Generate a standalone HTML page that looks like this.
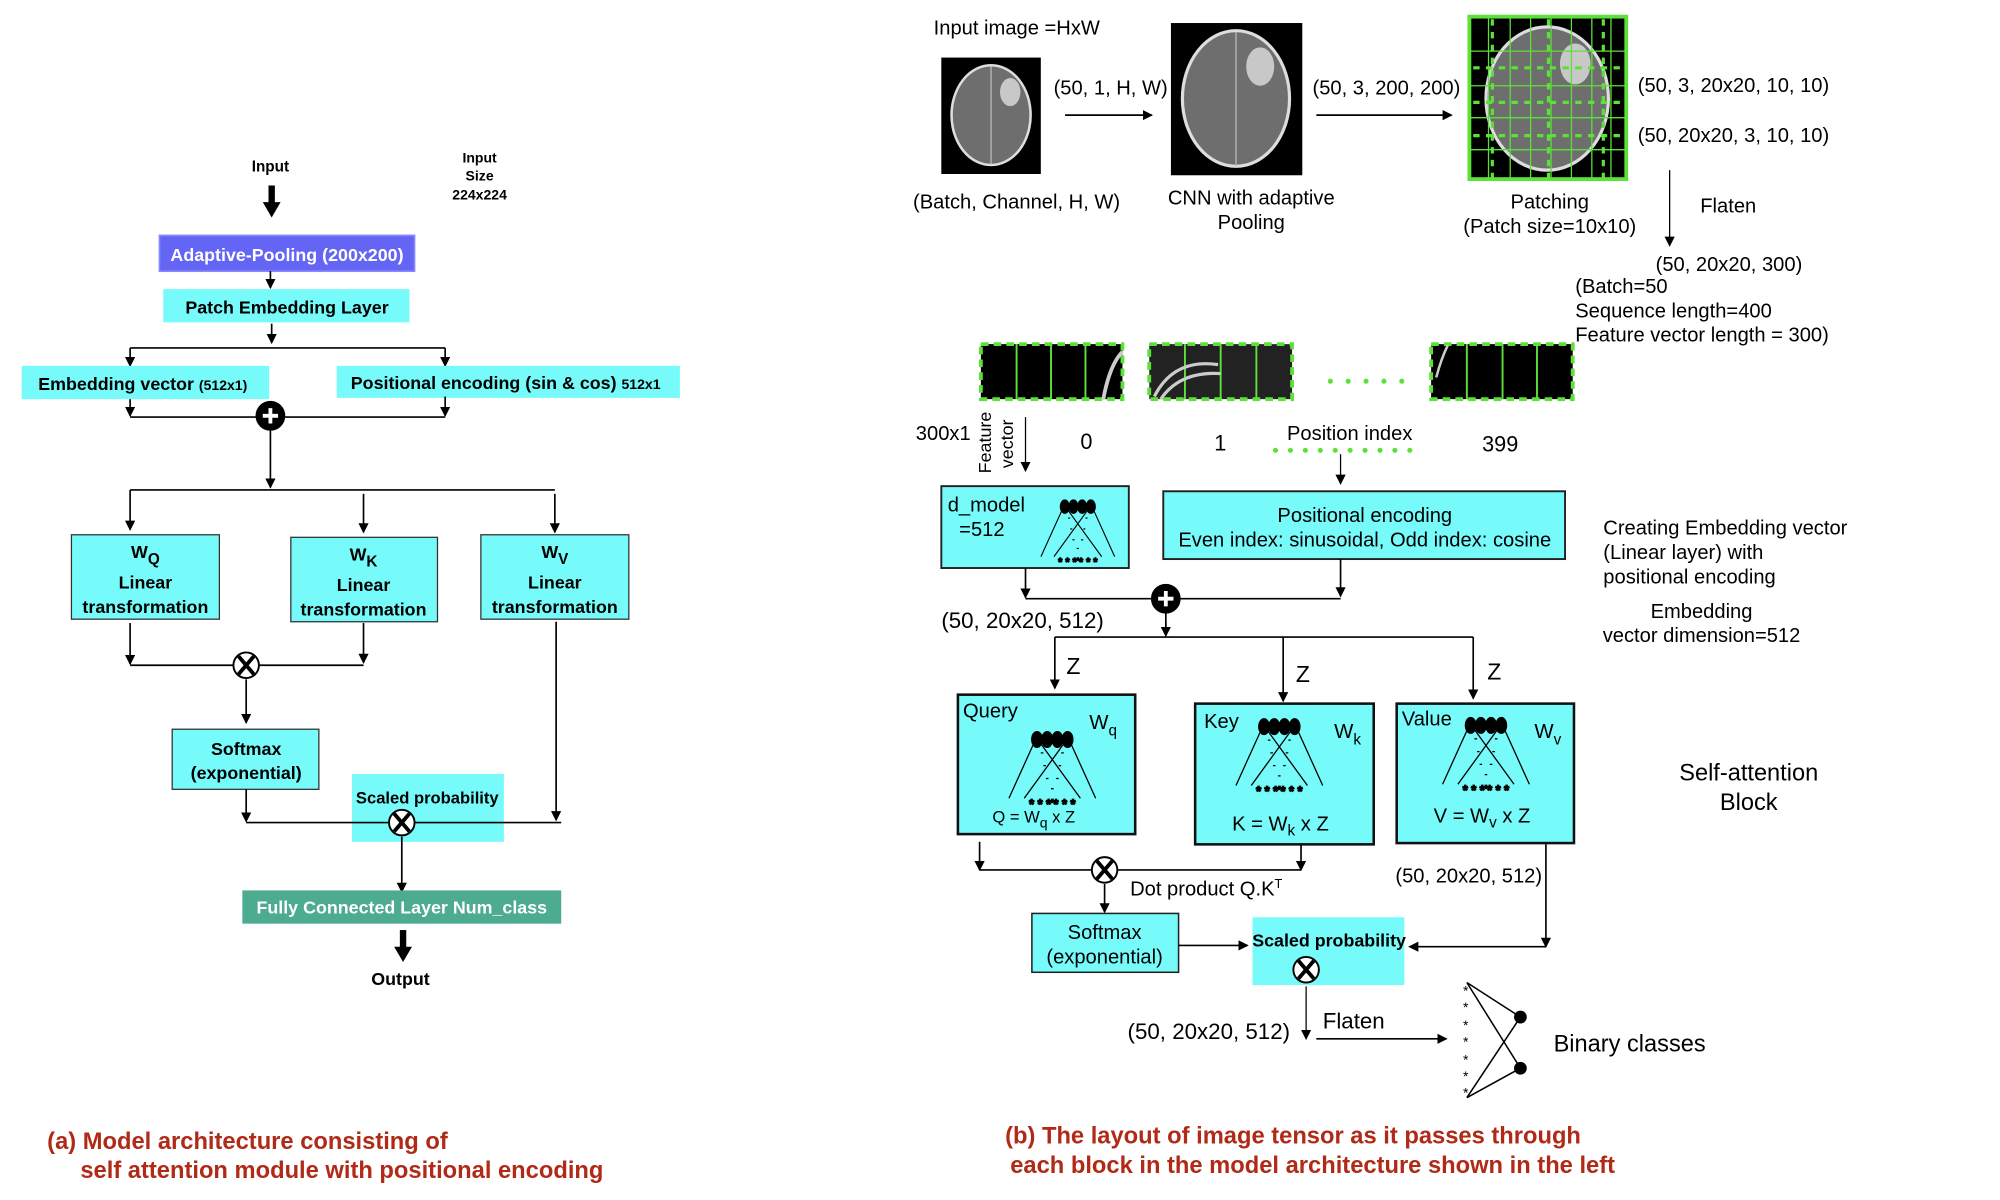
<!DOCTYPE html>
<html><head><meta charset="utf-8"><style>
html,body{margin:0;padding:0;background:#fff;}
svg{display:block;}
text{font-family:"Liberation Sans",Arial,sans-serif;}
.b{font-weight:bold;}
</style></head><body>
<svg width="2000" height="1200" viewBox="0 0 1568 938" preserveAspectRatio="none">
<defs>
<marker id="ar" markerWidth="8" markerHeight="8" refX="7" refY="4" orient="auto" markerUnits="userSpaceOnUse"><path d="M0,0 L8,4 L0,8 z" fill="#000"/></marker>
<g id="net">
<ellipse cx="-12" cy="0" rx="4" ry="6" fill="#000"/><ellipse cx="-4" cy="0" rx="4" ry="6" fill="#000"/><ellipse cx="4" cy="0" rx="4" ry="6" fill="#000"/><ellipse cx="12" cy="0" rx="4" ry="6" fill="#000"/>
<path d="M-14,2 L-34,46 M14,2 L34,46 M-10,2 L22,46 M10,2 L-22,46" stroke="#000" stroke-width="1" fill="none"/>
<path d="M-8,10v1M-6,20v1M-4,30v1M8,10v1M6,20v1M4,30v1M0,38v1" stroke="#000" stroke-width="2"/>
<text x="0" y="54" font-size="10" text-anchor="middle">* * *'* * *</text>
</g>
<g id="otimes"><circle r="10" fill="#fff" stroke="#000" stroke-width="1.5"/><path d="M-6,-7 L6,7 M6,-7 L-6,7" stroke="#000" stroke-width="3"/></g>
<g id="oplus"><circle r="11" fill="#000"/><path d="M-6,0 H6 M0,-6 V6" stroke="#fff" stroke-width="3"/></g>
</defs>

<!-- LEFT PANEL -->
<g stroke="#000" stroke-width="1.3" fill="none">
<text x="212" y="134" font-size="12" class="b" text-anchor="middle" fill="#000" stroke="none">Input</text>
<g font-size="11" class="b" text-anchor="middle" fill="#000" stroke="none"><text x="376" y="127">Input</text><text x="376" y="141">Size</text><text x="376" y="156">224x224</text></g>
<path d="M213,145 V160" stroke-width="5"/><path d="M206,158 L220,158 L213,170 z" fill="#000" stroke="none"/>
<rect x="125" y="184" width="200" height="28" fill="#6464f5" stroke="#8888ff"/>
<text x="225" y="204" font-size="14" class="b" fill="#fff" stroke="none" text-anchor="middle">Adaptive-Pooling (200x200)</text>
<path d="M212,212 V225" marker-end="url(#ar)"/>
<rect x="128" y="226" width="193" height="26" fill="#76fafa" stroke="none"/>
<text x="225" y="245" font-size="14" fill="#000" stroke="none" text-anchor="middle" style="font-weight:600">Patch Embedding Layer</text>
<path d="M213,253 V268" marker-end="url(#ar)"/>
<path d="M102,272 H349 M102,272 V285 M349,272 V285" />
<path d="M102,280 V286" marker-end="url(#ar)"/><path d="M349,280 V286" marker-end="url(#ar)"/>
<rect x="17" y="286" width="194" height="26" fill="#76fafa" stroke="none"/>
<text x="30" y="305" font-size="14" class="b" fill="#000" stroke="none">Embedding vector <tspan font-size="11">(512x1)</tspan></text>
<rect x="264" y="286" width="269" height="25" fill="#76fafa" stroke="none"/>
<text x="275" y="304" font-size="14" class="b" fill="#000" stroke="none">Positional encoding (sin &amp; cos) <tspan font-size="11">512x1</tspan></text>
<path d="M102,312 V325" marker-end="url(#ar)"/><path d="M349,310 V325" marker-end="url(#ar)"/>
<path d="M102,326 H349"/>
<use href="#oplus" x="212" y="325"/>
<path d="M212,336 V381" marker-end="url(#ar)"/>
<path d="M102,383 H435"/>
<path d="M102,383 V414" marker-end="url(#ar)"/><path d="M285,386 V416" marker-end="url(#ar)"/><path d="M435,386 V416" marker-end="url(#ar)"/>
<g><rect x="56" y="418" width="116" height="66" fill="#76fafa" stroke="#333" stroke-width="1"/>
<text x="114" y="436" font-size="14" class="b" fill="#000" stroke="none" text-anchor="middle">W<tspan font-size="12" dy="5">Q</tspan></text>
<text x="114" y="460" font-size="14" class="b" fill="#000" stroke="none" text-anchor="middle">Linear</text><text x="114" y="479" font-size="14" class="b" fill="#000" stroke="none" text-anchor="middle">transformation</text></g>
<g><rect x="228" y="420" width="115" height="66" fill="#76fafa" stroke="#333" stroke-width="1"/>
<text x="285" y="438" font-size="14" class="b" fill="#000" stroke="none" text-anchor="middle">W<tspan font-size="12" dy="5">K</tspan></text>
<text x="285" y="462" font-size="14" class="b" fill="#000" stroke="none" text-anchor="middle">Linear</text><text x="285" y="481" font-size="14" class="b" fill="#000" stroke="none" text-anchor="middle">transformation</text></g>
<g><rect x="377" y="418" width="116" height="66" fill="#76fafa" stroke="#333" stroke-width="1"/>
<text x="435" y="436" font-size="14" class="b" fill="#000" stroke="none" text-anchor="middle">W<tspan font-size="12" dy="5">V</tspan></text>
<text x="435" y="460" font-size="14" class="b" fill="#000" stroke="none" text-anchor="middle">Linear</text><text x="435" y="479" font-size="14" class="b" fill="#000" stroke="none" text-anchor="middle">transformation</text></g>
<path d="M102,487 V519" marker-end="url(#ar)"/><path d="M285,487 V518" marker-end="url(#ar)"/>
<path d="M102,520 H285"/>
<use href="#otimes" x="193" y="520"/>
<path d="M193,531 V565" marker-end="url(#ar)"/>
<rect x="135" y="570" width="115" height="47" fill="#76fafa" stroke="#333" stroke-width="1"/>
<text x="193" y="590" font-size="14" class="b" fill="#000" stroke="none" text-anchor="middle">Softmax</text>
<text x="193" y="609" font-size="14" class="b" fill="#000" stroke="none" text-anchor="middle">(exponential)</text>
<rect x="276" y="605" width="119" height="53" fill="#76fafa" stroke="none"/>
<text x="335" y="628" font-size="13" class="b" fill="#000" stroke="none" text-anchor="middle">Scaled probability</text>
<path d="M193,617 V642" marker-end="url(#ar)"/>
<path d="M436,486 V641" marker-end="url(#ar)"/>
<path d="M193,643 H440"/>
<use href="#otimes" x="315" y="643"/>
<path d="M315,654 V697" marker-end="url(#ar)"/>
<rect x="190" y="696" width="250" height="26" fill="#4dab8f" stroke="none"/>
<text x="315" y="714" font-size="14" class="b" fill="#fff" stroke="none" text-anchor="middle">Fully Connected Layer Num_class</text>
<path d="M316,727 V742" stroke-width="5"/><path d="M309,740 L323,740 L316,752 z" fill="#000" stroke="none"/>
<text x="314" y="770" font-size="14" class="b" fill="#000" stroke="none" text-anchor="middle">Output</text>
<g fill="#b02a17" stroke="none" font-size="18.6" class="b"><text x="37" y="898">(a) Model architecture consisting of</text><text x="63" y="921">self attention module with positional encoding</text></g>
</g>

<!-- RIGHT PANEL -->
<g stroke="#000" stroke-width="1.3" fill="none">
<g fill="#000" stroke="none" font-size="15.8">
<text x="732" y="27">Input image =HxW</text>
<text x="826" y="74">(50, 1, H, W)</text>
<text x="1029" y="74">(50, 3, 200, 200)</text>
<text x="1284" y="72">(50, 3, 20x20, 10, 10)</text>
<text x="1284" y="111">(50, 20x20, 3, 10, 10)</text>
<text x="797" y="163" text-anchor="middle">(Batch, Channel, H, W)</text>
<text x="981" y="160" text-anchor="middle">CNN with adaptive</text><text x="981" y="179" text-anchor="middle">Pooling</text>
<text x="1215" y="163" text-anchor="middle">Patching</text><text x="1215" y="182" text-anchor="middle">(Patch size=10x10)</text>
<text x="1333" y="166">Flaten</text>
<text x="1298" y="212">(50, 20x20, 300)</text>
<text x="1235" y="229">(Batch=50</text><text x="1235" y="248">Sequence length=400</text><text x="1235" y="267">Feature vector length = 300)</text>
<text x="718" y="344">300x1</text>
<text x="847" y="351" font-size="17">0</text><text x="952" y="352" font-size="17">1</text><text x="1162" y="353" font-size="17">399</text>
<text x="1009" y="344">Position index</text>
</g>
<g fill="#000" stroke="none" font-size="14"><text transform="translate(777,370) rotate(-90)">Feature</text><text transform="translate(794,366) rotate(-90)">vector</text></g>
<!-- brain images -->
<g><rect x="738" y="45" width="78" height="91" fill="#000" stroke="none"/>
<ellipse cx="777" cy="90" rx="31" ry="39" fill="#6e6e6e" stroke="#ddd" stroke-width="2"/><ellipse cx="792" cy="72" rx="8" ry="11" fill="#c8c8c8" stroke="none"/><path d="M777,52 V128" stroke="#bbb" stroke-width="1"/></g>
<g><rect x="918" y="18" width="103" height="119" fill="#000" stroke="none"/>
<ellipse cx="969" cy="77" rx="42" ry="53" fill="#6e6e6e" stroke="#ddd" stroke-width="2.5"/><ellipse cx="988" cy="52" rx="11" ry="15" fill="#c8c8c8" stroke="none"/><path d="M969,25 V130" stroke="#bbb" stroke-width="1"/></g>
<g><rect x="1152" y="13" width="123" height="127" fill="#000" stroke="none"/>
<ellipse cx="1213" cy="77" rx="48" ry="56" fill="#6e6e6e" stroke="#ddd" stroke-width="2.5"/><ellipse cx="1235" cy="50" rx="12" ry="16" fill="#c8c8c8" stroke="none"/>
<rect x="1152" y="13" width="123" height="127" fill="none" stroke="#5de03a" stroke-width="3"/>
<path d="M1152,40H1275M1152,67H1275M1152,92H1275M1152,117H1275M1167,13V140M1184,13V140M1200,13V140M1216,13V140M1232,13V140M1248,13V140M1263,13V140" stroke="#5de03a" stroke-width="1"/>
<path d="M1155,53H1275M1155,80H1275M1155,106H1275M1170,15V140M1214,15V140M1257,15V140" stroke="#5de03a" stroke-width="2.5" stroke-dasharray="5,5"/></g>
<path d="M835,90 H903" marker-end="url(#ar)"/>
<path d="M1032,90 H1138" marker-end="url(#ar)"/>
<path d="M1309,133 V192" marker-end="url(#ar)" stroke-width="1"/>
<!-- patch strips -->
<g><rect x="769" y="269" width="111" height="43" fill="#000" stroke="#5de03a" stroke-width="3" stroke-dasharray="6,4"/><path d="M797,269V312M824,269V312M851,269V312" stroke="#5de03a" stroke-width="1.5"/><path d="M865,312 Q870,285 880,275" stroke="#ccc" stroke-width="3"/></g>
<g><rect x="901" y="269" width="112" height="43" fill="#222" stroke="#5de03a" stroke-width="3" stroke-dasharray="6,4"/><path d="M929,269V312M957,269V312M985,269V312" stroke="#5de03a" stroke-width="1.5"/><path d="M905,310 Q920,280 955,285 M910,312 Q925,290 957,292" stroke="#ccc" stroke-width="2.5"/></g>
<g><rect x="1122" y="269" width="111" height="43" fill="#000" stroke="#5de03a" stroke-width="3" stroke-dasharray="6,4"/><path d="M1150,269V312M1178,269V312M1205,269V312" stroke="#5de03a" stroke-width="1.5"/><path d="M1126,295 Q1130,280 1135,270" stroke="#ccc" stroke-width="2"/></g>
<path d="M1043,298 H1102" stroke="#5de03a" stroke-width="4" stroke-linecap="round" stroke-dasharray="0,14"/>
<path d="M1000,352 H1117" stroke="#5de03a" stroke-width="4" stroke-linecap="round" stroke-dasharray="0,11.7"/>
<path d="M804,326 V368" marker-end="url(#ar)" stroke-width="1"/>
<path d="M1051,355 V378" marker-end="url(#ar)" stroke-width="1"/>
<!-- embedding -->
<g><rect x="738" y="380" width="147" height="64" fill="#76fafa" stroke="#222" stroke-width="1.5"/>
<text x="743" y="400" font-size="15.8" fill="#000" stroke="none">d_model</text><text x="752" y="419" font-size="15.8" fill="#000" stroke="none">=512</text>
<g transform="translate(845,396) scale(0.85)"><use href="#net"/></g></g>
<g><rect x="912" y="384" width="315" height="53" fill="#76fafa" stroke="#222" stroke-width="1.5"/>
<text x="1070" y="408" font-size="15.8" fill="#000" stroke="none" text-anchor="middle">Positional encoding</text>
<text x="1070" y="427" font-size="15.8" fill="#000" stroke="none" text-anchor="middle">Even index: sinusoidal, Odd index: cosine</text></g>
<g fill="#000" stroke="none" font-size="15.8"><text x="1257" y="418">Creating Embedding vector</text><text x="1257" y="437">(Linear layer) with</text><text x="1257" y="456">positional encoding</text><text x="1334" y="483" text-anchor="middle">Embedding</text><text x="1334" y="502" text-anchor="middle">vector dimension=512</text></g>
<path d="M804,444 V467" marker-end="url(#ar)"/><path d="M1051,437 V466" marker-end="url(#ar)"/>
<path d="M804,468 H1051"/>
<use href="#oplus" x="914" y="468"/>
<text x="738" y="491" font-size="17.5" fill="#000" stroke="none">(50, 20x20, 512)</text>
<path d="M914,479 V497"/><path d="M914,487 V497" marker-end="url(#ar)"/>
<path d="M827,498 H1155"/>
<path d="M827,498 V538" marker-end="url(#ar)"/><path d="M1006,498 V548" marker-end="url(#ar)"/><path d="M1155,498 V546" marker-end="url(#ar)"/>
<g fill="#000" stroke="none" font-size="18"><text x="836" y="527">Z</text><text x="1016" y="533">Z</text><text x="1166" y="531">Z</text></g>
<!-- QKV -->
<g><rect x="751" y="543" width="139" height="109" fill="#76fafa" stroke="#111" stroke-width="2"/>
<text x="755" y="561" font-size="15.8" fill="#000" stroke="none">Query</text><text x="854" y="570" font-size="16" fill="#000" stroke="none">W<tspan font-size="12" dy="5">q</tspan></text>
<use href="#net" x="825" y="578"/><text x="778" y="643" font-size="13" fill="#000" stroke="none">Q = W<tspan dy="4" font-size="11">q</tspan><tspan dy="-4"> x Z</tspan></text></g>
<g><rect x="937" y="550" width="140" height="110" fill="#76fafa" stroke="#111" stroke-width="2"/>
<text x="944" y="569" font-size="15.8" fill="#000" stroke="none">Key</text><text x="1046" y="577" font-size="16" fill="#000" stroke="none">W<tspan font-size="12" dy="5">k</tspan></text>
<use href="#net" x="1003" y="568"/><text x="966" y="649" font-size="15.8" fill="#000" stroke="none">K = W<tspan dy="4" font-size="12">k</tspan><tspan dy="-4"> x Z</tspan></text></g>
<g><rect x="1095" y="550" width="139" height="109" fill="#76fafa" stroke="#111" stroke-width="2"/>
<text x="1099" y="567" font-size="15.8" fill="#000" stroke="none">Value</text><text x="1203" y="577" font-size="16" fill="#000" stroke="none">W<tspan font-size="12" dy="5">v</tspan></text>
<use href="#net" x="1165" y="567"/><text x="1124" y="643" font-size="15.8" fill="#000" stroke="none">V = W<tspan dy="4" font-size="12">v</tspan><tspan dy="-4"> x Z</tspan></text></g>
<g fill="#000" stroke="none" font-size="18.5"><text x="1371" y="610" text-anchor="middle">Self-attention</text><text x="1371" y="633" text-anchor="middle">Block</text></g>
<path d="M768,658 V680" marker-end="url(#ar)"/><path d="M1020,660 V680" marker-end="url(#ar)"/>
<path d="M768,680 H1020"/>
<use href="#otimes" x="866" y="680"/>
<text x="886" y="700" font-size="15.8" fill="#000" stroke="none">Dot product Q.K<tspan dy="-6" font-size="10">T</tspan></text>
<text x="1094" y="690" font-size="15.8" fill="#000" stroke="none">(50, 20x20, 512)</text>
<path d="M1212,660 V740" marker-end="url(#ar)"/><path d="M1212,740 H1105" marker-end="url(#ar)"/>
<path d="M866,691 V713" marker-end="url(#ar)"/>
<rect x="809" y="714" width="115" height="46" fill="#76fafa" stroke="#222" stroke-width="1.2"/>
<text x="866" y="734" font-size="15.8" fill="#000" stroke="none" text-anchor="middle">Softmax</text><text x="866" y="753" font-size="15.8" fill="#000" stroke="none" text-anchor="middle">(exponential)</text>
<path d="M924,739 H978" marker-end="url(#ar)"/>
<rect x="982" y="717" width="119" height="53" fill="#76fafa" stroke="none"/>
<text x="1042" y="740" font-size="14" fill="#000" stroke="none" text-anchor="middle" style="font-weight:600">Scaled probability</text>
<use href="#otimes" x="1024" y="758"/>
<path d="M1024,771 V812" marker-end="url(#ar)" stroke-width="1"/>
<text x="884" y="812" font-size="17.5" fill="#000" stroke="none">(50, 20x20, 512)</text>
<text x="1037" y="804" font-size="17.5" fill="#000" stroke="none">Flaten</text>
<path d="M1032,812 H1134" marker-end="url(#ar)"/>
<g>
<path d="M1150,768 L1192,795 L1150,858 M1150,768 L1192,835 L1150,858" stroke-width="1.2"/>
<circle cx="1192" cy="795" r="5" fill="#000" stroke="none"/><circle cx="1192" cy="835" r="5" fill="#000" stroke="none"/>
<g fill="#000" stroke="none" font-size="11"><text x="1147" y="778">*</text><text x="1147" y="791">*</text><text x="1147" y="805">*</text><text x="1147" y="818">*</text><text x="1147" y="832">*</text><text x="1147" y="845">*</text><text x="1147" y="858">*</text></g>
</g>
<text x="1218" y="822" font-size="18.5" fill="#000" stroke="none">Binary classes</text>
<g fill="#b02a17" stroke="none" font-size="18.6" class="b"><text x="788" y="894">(b) The layout of image tensor as it passes through</text><text x="792" y="917">each block in the model architecture shown in the left</text></g>
</g>
</svg>
</body></html>
